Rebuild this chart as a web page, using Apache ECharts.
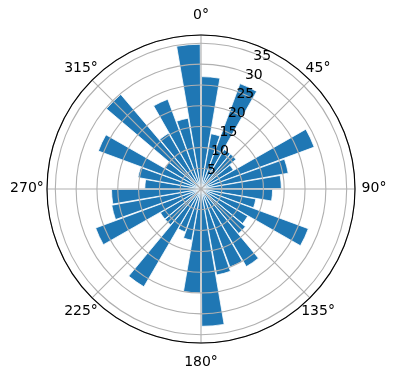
<!DOCTYPE html>
<html>
<head>
<meta charset="utf-8">
<script src="https://cdn.jsdelivr.net/npm/echarts@6/dist/echarts.min.js"></script>
<style>
html,body{margin:0;padding:0;background:#fff;}
#chart{width:396px;height:380px;}
</style>
</head>
<body>
<div id="chart"></div>
<script>
// 36 bins of 10 degrees, clockwise from north
const binLabels = Array.from({length: 36}, (_, i) => String(i * 10));
const radii = [27, 13.5, 27, 11, 11, 9, 29, 21.3, 19.3, 17.2, 13.4, 27.5,
               13, 14, 21.6, 20, 21, 33, 25, 12.5, 11, 27.2, 11.3, 11.3,
               27, 21.8, 21.5, 13.5, 15.4, 26.3, 10, 29.8, 15.5, 23, 17.3, 34.8];
const angleTicks = [0, 45, 90, 135, 180, 225, 270, 315];
const radiusTicks = [5, 10, 15, 20, 25, 30, 35];
const rMax = 37;

const CX = 201, CY = 189, R = 154;
const font = 'DejaVu Sans';

// per-label padding to centre the theta labels like matplotlib
const anglePad = {
  0:   [0, 0, 28, 0],
  45:  [0, 0, 15.7, 6.3],
  90:  [0, 0, 2, 21.6],
  135: [16.7, 0, 0, 1.9],
  180: [27, 0, 0, 0],
  225: [16.7, 4.85, 0, 0],
  270: [0, 18.2, 2, 0],
  315: [0, 4.85, 15.7, 0]
};
const rich = {};
angleTicks.forEach(a => {
  rich['a' + a] = {fontFamily: font, fontSize: 14, color: '#000', padding: anglePad[a]};
});

const chart = echarts.init(document.getElementById('chart'), null, {renderer: 'canvas'});
chart.setOption({
  animation: false,
  backgroundColor: '#fff',
  polar: [
    {center: [CX, CY], radius: R},
    {center: [CX, CY], radius: R},
    {center: [CX, CY], radius: R}
  ],
  angleAxis: [
    {
      polarIndex: 0, type: 'category', data: binLabels, startAngle: 90, clockwise: true,
      boundaryGap: true,
      axisLine: {show: false}, axisTick: {show: false}, axisLabel: {show: false}, splitLine: {show: false}
    },
    {
      polarIndex: 1, type: 'value', min: 0, max: 360, interval: 45, startAngle: 90, clockwise: true,
      z: 5,
      axisLine: {show: true, lineStyle: {color: '#000', width: 1.1}},
      axisTick: {show: false},
      splitLine: {show: true, lineStyle: {color: '#b0b0b0', width: 1.1}},
      axisLabel: {
        show: true, margin: -15,
        formatter: v => (v >= 360 ? '' : '{a' + v + '|' + v + '°}'),
        rich: rich
      }
    },
    {
      polarIndex: 2, type: 'value', min: 0, max: 360, startAngle: 66, clockwise: true,
      axisLine: {show: false}, axisTick: {show: false}, axisLabel: {show: false}, splitLine: {show: false}
    }
  ],
  radiusAxis: [
    {polarIndex: 0, type: 'value', min: 0, max: rMax, show: false,
     axisLine: {show: false}, axisTick: {show: false}, axisLabel: {show: false}, splitLine: {show: false}},
    {polarIndex: 1, type: 'value', min: 0, max: rMax, interval: 5, z: 5,
     axisLine: {show: false}, axisTick: {show: false}, axisLabel: {show: false},
     splitLine: {show: true, lineStyle: {color: '#b0b0b0', width: 1.1}}},
    {polarIndex: 2, type: 'value', min: 0, max: rMax, interval: 5, z: 6,
     axisLine: {show: false}, axisTick: {show: false}, splitLine: {show: false},
     axisLabel: {
       show: true, margin: 0, align: 'center', verticalAlign: 'middle',
       fontFamily: font, fontSize: 14, color: '#000', padding: [0, 0, 11, 4],
       showMinLabel: false, showMaxLabel: false,
       formatter: v => (radiusTicks.indexOf(v) >= 0 ? String(v) : '')
     }}
  ],
  series: [{
    type: 'bar',
    coordinateSystem: 'polar',
    polarIndex: 0,
    data: radii,
    barCategoryGap: '6%',
    itemStyle: {color: '#1f77b4', borderColor: '#ffffff', borderWidth: 0.8},
    z: 2
  }]
});
</script>
</body>
</html>
